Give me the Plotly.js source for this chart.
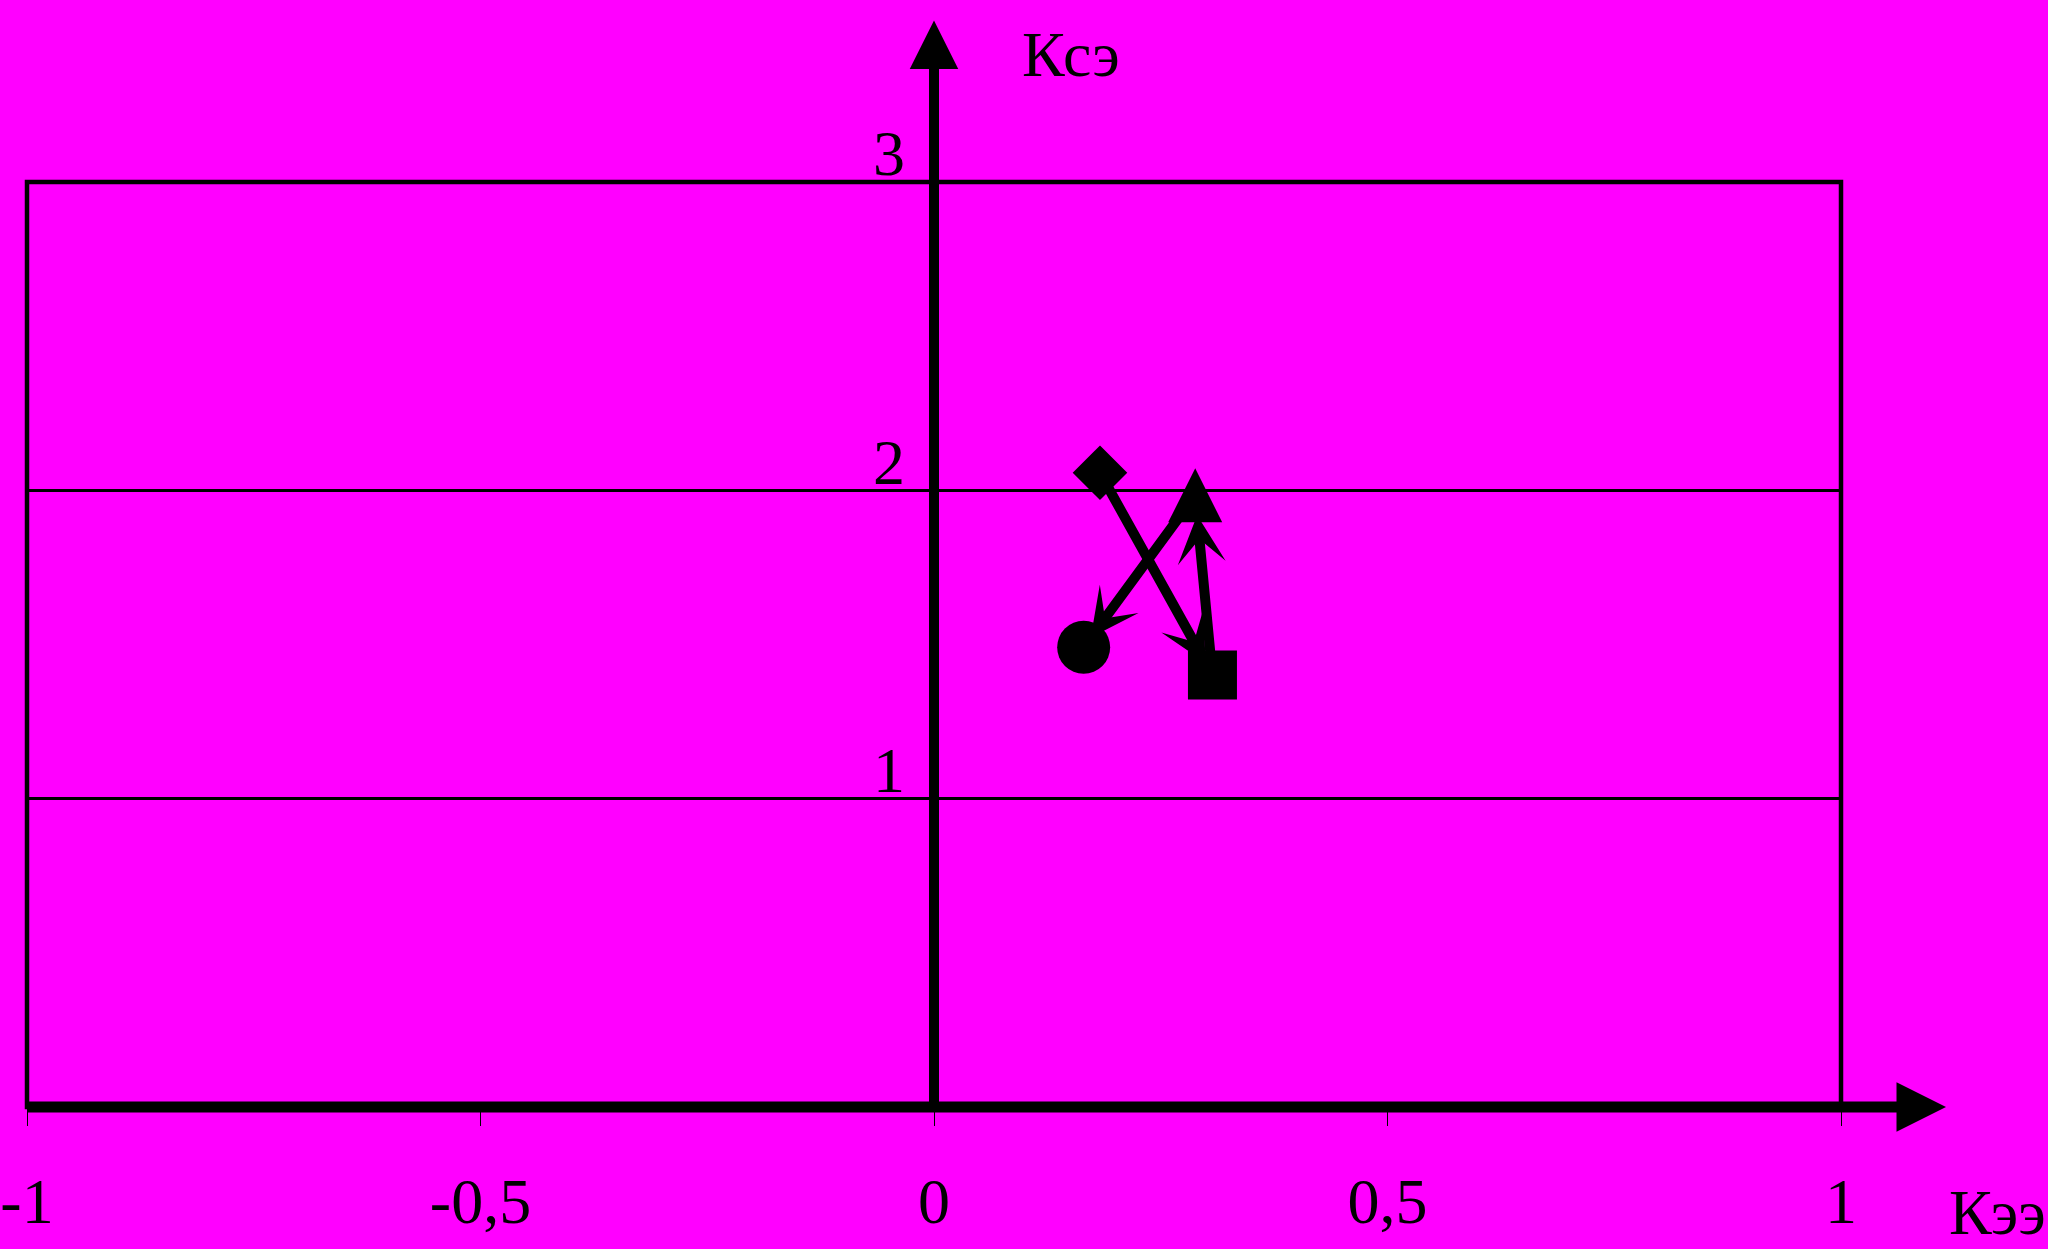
<!DOCTYPE html>
<html>
<head>
<meta charset="utf-8">
<script src="https://cdn.plot.ly/plotly-3.0.1.min.js"></script>
<style>
html, body { margin: 0; padding: 0; background: #ff00ff; }
#chart { width: 2048px; height: 1249px; }
</style>
</head>
<body>
<div id="chart"></div>
<script>
// ---- data ----
const pointX = [0.183, 0.307, 0.288, 0.165];   // Кээ values, in drawing order
const pointY = [2.057, 1.401, 1.984, 1.491];   // Ксэ values
const xTickVals = [-1, -0.5, 0, 0.5, 1];
const xTickText = ['-1', '-0,5', '0', '0,5', '1'];
const yTickVals = [1, 2, 3];
const yTickText = ['1', '2', '3'];
const xTitle = 'Кээ';
const yTitle = 'Ксэ';
const xRange = [-1, 1];
const yRange = [0, 3];

// ---- styles ----
const FONT = 'Liberation Serif, Times New Roman, serif';
const BLACK = '#000000';
const BG = '#ff00ff';
const markerStyles = [
  { symbol: 'diamond', size: 42 },
  { symbol: 'square', size: 49 },
  { symbol: 'arrow-down', size: 54, angle: 180, standoff: 27 },
  { symbol: 'circle', size: 53 }
];
const arrowStandoffs = [14, 20, 12];

const traces = pointX.map((x, i) => ({
  type: 'scatter',
  mode: 'markers',
  x: [x],
  y: [pointY[i]],
  cliponaxis: false,
  hoverinfo: 'skip',
  showlegend: false,
  marker: Object.assign({ color: BLACK, line: { width: 0 } }, markerStyles[i])
}));

const dataArrows = pointX.slice(1).map((x, i) => ({
  xref: 'x', yref: 'y', axref: 'x', ayref: 'y',
  x: x, y: pointY[i + 1],
  ax: pointX[i], ay: pointY[i],
  text: ' ', font: { size: 2 },
  showarrow: true, arrowhead: 3, arrowsize: 0.8, arrowwidth: 10,
  arrowcolor: BLACK, standoff: arrowStandoffs[i]
}));

const axisArrows = [
  { // vertical (Ксэ) axis through x = 0
    xref: 'x', yref: 'paper', x: 0, y: 1.1745,
    ax: 0, ay: 1092,
    text: ' ', font: { size: 2 },
    showarrow: true, arrowhead: 2, arrowsize: 0.97, arrowwidth: 10, arrowcolor: BLACK
  },
  { // horizontal (Кээ) axis through y = 0
    xref: 'paper', yref: 'y', x: 1.0579, y: 0,
    ax: -1921, ay: 0,
    text: ' ', font: { size: 2 },
    showarrow: true, arrowhead: 2, arrowsize: 0.9, arrowwidth: 11, arrowcolor: BLACK
  }
];

const titleAnnotations = [
  { xref: 'paper', yref: 'paper', x: 0.5755, y: 1.138, xanchor: 'center', yanchor: 'middle',
    text: yTitle, showarrow: false, font: { family: FONT, size: 64, color: BLACK } },
  { xref: 'paper', yref: 'paper', x: 1.086, y: -0.1139, xanchor: 'center', yanchor: 'middle',
    text: xTitle, showarrow: false, font: { family: FONT, size: 64, color: BLACK } }
];

const layout = {
  width: 2048,
  height: 1249,
  paper_bgcolor: BG,
  plot_bgcolor: BG,
  margin: { l: 27, r: 207, t: 182, b: 142, pad: 0 },
  showlegend: false,
  font: { family: FONT, color: BLACK },
  xaxis: {
    range: xRange,
    tickmode: 'array',
    tickvals: xTickVals,
    ticktext: xTickText,
    ticks: 'outside',
    ticklen: 18,
    tickwidth: 1,
    tickcolor: BLACK,
    ticklabelstandoff: 20,
    tickfont: { family: FONT, size: 64, color: BLACK },
    showgrid: false,
    zeroline: false,
    showline: false,
    fixedrange: true
  },
  yaxis: {
    range: yRange,
    anchor: 'free',
    position: 0.5,
    tickmode: 'array',
    tickvals: yTickVals,
    ticktext: yTickText,
    ticks: '',
    ticklabelshift: -29,
    ticklabelstandoff: 29,
    tickfont: { family: FONT, size: 64, color: BLACK },
    showgrid: true,
    gridcolor: BLACK,
    gridwidth: 3.5,
    zeroline: false,
    showline: false,
    fixedrange: true
  },
  shapes: [
    { type: 'rect', xref: 'paper', yref: 'paper', x0: 0, x1: 1, y0: 0, y1: 1,
      line: { color: BLACK, width: 4.5 }, fillcolor: 'rgba(0,0,0,0)', layer: 'below' }
  ],
  annotations: axisArrows.concat(dataArrows, titleAnnotations)
};

Plotly.newPlot('chart', traces, layout, { displayModeBar: false, staticPlot: true });
</script>
</body>
</html>
